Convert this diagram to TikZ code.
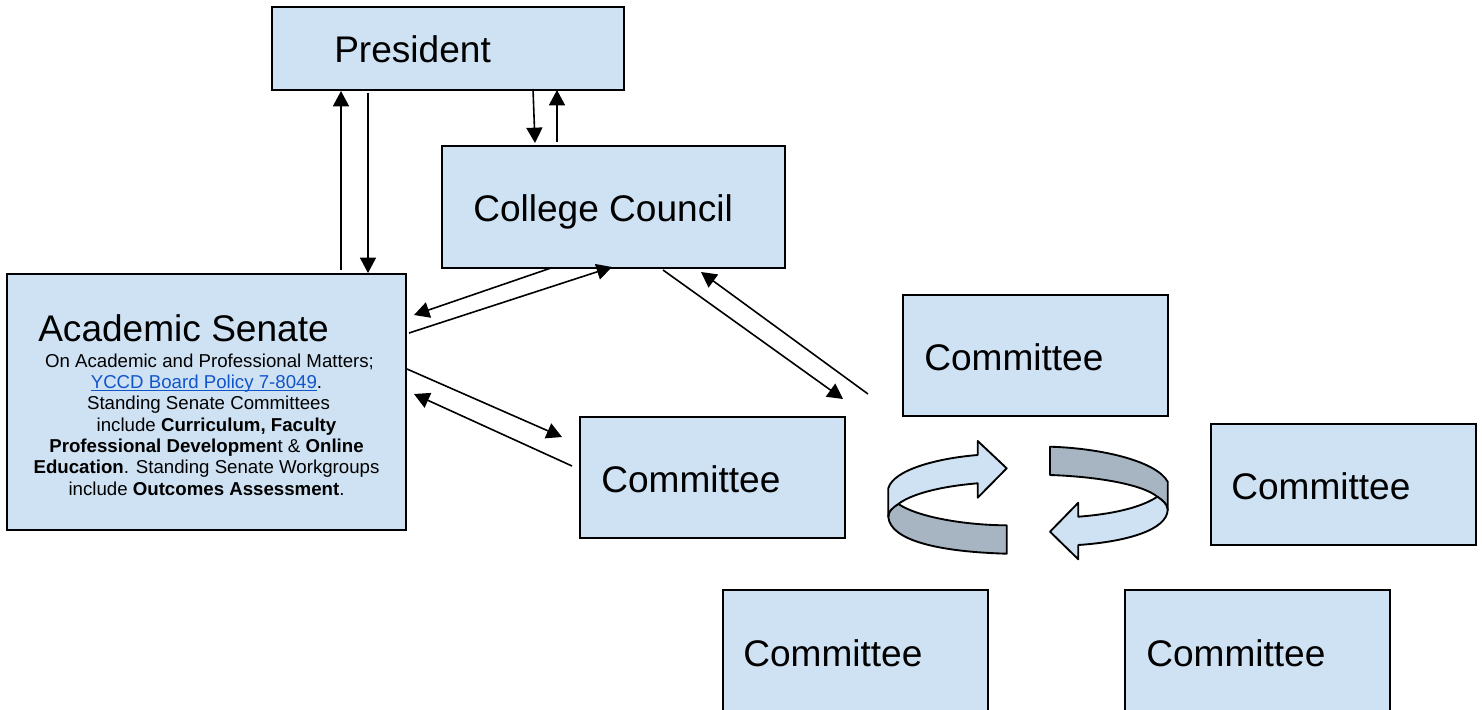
\documentclass[tikz,border=0pt]{standalone}
\usepackage{fontspec}
\setmainfont{Liberation Sans}
\usetikzlibrary{arrows.meta}
\definecolor{boxblue}{HTML}{CFE2F3}
\definecolor{ribbon}{HTML}{A7B5C2}
\definecolor{linkblue}{HTML}{1155CC}
\tikzset{
  orgbox/.style={draw=black,fill=boxblue,line width=1.3pt,inner sep=0pt,anchor=north west},
  biglabel/.style={anchor=base west,inner sep=0pt,font=\fontsize{27.8}{32}\selectfont},
  flow/.style={draw=black,line width=1.2pt,-{Triangle[length=11.5pt,width=12pt]},shorten >=0pt},
  shapeline/.style={draw=black,line width=1.4pt,line join=round},
}
\newcommand{\orgbox}[5]{\node[orgbox,minimum width=#4*0.75pt,minimum height=#5*0.75pt] (#1) at (#2-0.7,#3-0.7) {};}
\begin{document}
\begin{tikzpicture}[x=0.75pt,y=-0.75pt]
\path[use as bounding box,clip] (0,0) rectangle (1482,710);
\orgbox{pres}{272}{7}{352}{83}
\orgbox{council}{442}{146}{343}{122}
\orgbox{senate}{7}{274}{399}{256}
\orgbox{cmA}{580}{417}{265}{121}
\orgbox{cmB}{903}{295}{265}{121}
\orgbox{cmC}{1211}{424}{265}{121}
\orgbox{cmD}{723}{590}{265}{124}
\orgbox{cmE}{1125}{590}{265}{124}
\node[biglabel] (presT) at (334,63) {President};
\node[biglabel] (councilT) at (473,221) {College Council};
\node[biglabel] (senateT) at (38,341) {Academic Senate};
\node[biglabel] (cmAT) at (601,492) {Committee};
\node[biglabel] (cmBT) at (924,370) {Committee};
\node[biglabel] (cmCT) at (1231,499) {Committee};
\node[biglabel] (cmDT) at (743,666) {Committee};
\node[biglabel] (cmET) at (1146,666) {Committee};
\node[anchor=base,inner sep=0pt,align=center,font=\fontsize{14}{16}\selectfont] (senateD) at (206.5,495) {%
\hspace*{4.5pt}On Academic and Professional Matters;\\
\textcolor{linkblue}{\underline{\smash{YCCD Board Policy 7-8049}}}.\\
\hspace*{3pt}Standing Senate Committees\\
\hspace*{15pt}include \textbf{Curriculum, Faculty}\\
\textbf{Professional Developmen}t \& \textbf{Online}\\
\textbf{Education}. Standing Senate Workgroups\\
include \textbf{Outcomes Assessment}.};
% connector ends
\coordinate (a1s) at (341,270); \coordinate (a1e) at (341,91);
\coordinate (a2s) at (368,93);  \coordinate (a2e) at (368,273);
\coordinate (a3s) at (533,89);  \coordinate (a3e) at (535,143);
\coordinate (a4s) at (557,142); \coordinate (a4e) at (557,90);
\coordinate (a5s) at (551,268); \coordinate (a5e) at (414,315);
\coordinate (a6s) at (409,333); \coordinate (a6e) at (612,267);
\coordinate (a7s) at (663,270); \coordinate (a7e) at (843,399);
\coordinate (a8s) at (868,394); \coordinate (a8e) at (701,272);
\coordinate (a9s) at (407,369); \coordinate (a9e) at (562,437);
\coordinate (a10s) at (572,466); \coordinate (a10e) at (414,394);
\foreach \i in {1,...,10} {\draw[flow] (a\i s) -- (a\i e);}
% left circular arrow
\path[shapeline,fill=ribbon] (898.3,504) .. controls (920,518.3) and (970,525.3) .. (1006.7,525.3) -- (1006.7,553.7) .. controls (936.7,551.7) and (890,540) .. (888.3,516.7) .. controls (888.3,510) and (892,508) .. cycle;
\path[shapeline,fill=boxblue] (888.3,488.3) .. controls (893.3,470) and (936.7,458.3) .. (977.7,455) -- (977.7,441) -- (1006.7,468.3) -- (977.7,497.7) -- (977.7,483.3) .. controls (936.7,486.7) and (910,495) .. (898.3,504) .. controls (892,508) and (888.3,512) .. (888.3,516.7) -- cycle;
% right circular arrow
\path[shapeline,fill=ribbon] (1050,446.7) .. controls (1103.3,448.3) and (1156.7,461.7) .. (1167.7,481.7) -- (1167.7,510) .. controls (1167.7,504) and (1162,500) .. (1157.3,496.7) .. controls (1143.3,485) and (1100,476.7) .. (1050,475) -- cycle;
\path[shapeline,fill=boxblue] (1157.3,496.7) .. controls (1162,500) and (1167.7,504) .. (1167.7,510) .. controls (1166.7,530) and (1126.7,541.7) .. (1078.3,545) -- (1078.3,559.3) -- (1050,531.7) -- (1078.3,502.7) -- (1078.3,516.7) .. controls (1110,514.3) and (1140,508.3) .. cycle;
\end{tikzpicture}
\end{document}
